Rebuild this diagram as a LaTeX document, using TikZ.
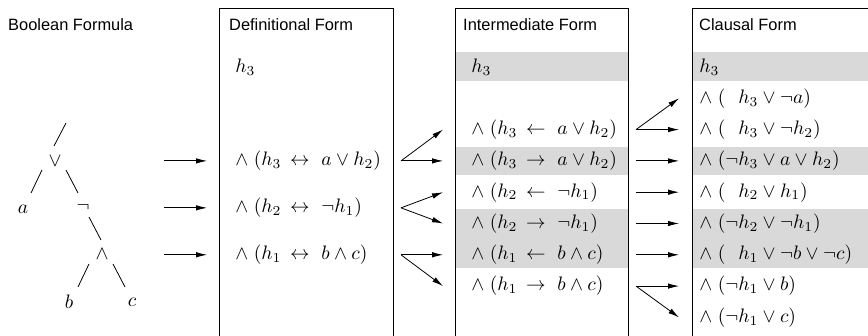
\documentclass[tikz,border=0pt]{standalone}
\usepackage[no-math]{fontspec}
\newfontfamily\lsans{Liberation Sans}
\usetikzlibrary{arrows.meta,calc}
\definecolor{bandgray}{RGB}{217,217,217}
\newcommand{\cw}{\mathord{\wedge}\;\,}
\newcommand{\rl}[1]{\,#1\ }
\begin{document}
\begin{tikzpicture}[x=1pt,y=-1pt,
  title/.style={anchor=west,inner sep=0pt,font=\lsans\fontsize{16.4}{19}\selectfont},
  row/.style={anchor=west,inner sep=0pt,scale=1.95},
  tree/.style={inner sep=0pt,scale=1.95},
  boxline/.style={draw,line width=0.9pt},
  band/.style={fill=bandgray},
  arr/.style={-{Latex[length=11pt,width=5.5pt]},line width=0.8pt},
  tline/.style={line width=0.8pt}]
\useasboundingbox (0,0) rectangle (868,336);
\clip (0,0) rectangle (868,336);
% shaded bands
\fill[band] (455,52.5) rectangle (628,81);
\fill[band] (455,147) rectangle (628,175);
\fill[band] (455,209) rectangle (628,268.5);
\fill[band] (692,52.5) rectangle (880,81);
\fill[band] (692,147) rectangle (880,175);
\fill[band] (692,209) rectangle (880,268.5);
% boxes
\draw[boxline] (219,360) -- (219,8) -- (393,8) -- (393,360);
\draw[boxline] (455,360) -- (455,8) -- (628,8) -- (628,360);
\draw[boxline] (692,360) -- (692,8) -- (880,8);
% titles
\node[title] (tBool) at (8,25) {Boolean Formula};
\node[title] (tDef) at (229,25) {Definitional Form};
\node[title] (tInt) at (463,25) {Intermediate Form};
\node[title] (tCl) at (699,25) {Clausal Form};
% tree
\node[tree] (vee) at (55,161) {$\vee$};
\node[tree] (ta) at (23,209) {$a$};
\node[tree] (tneg) at (83,207) {$\neg$};
\node[tree] (twedge) at (102,254) {$\wedge$};
\node[tree] (tb) at (69,302) {$b$};
\node[tree] (tc) at (132,302) {$c$};
\draw[tline] ($(vee)+(-1,-15)$) -- ($(vee)+(11,-38)$);
\draw[tline] ($(vee)+(-13,9)$) -- ($(ta)+(8,-16)$);
\draw[tline] ($(vee)+(11,9)$) -- ($(tneg)+(-5,-14)$);
\draw[tline] ($(tneg)+(6,10)$) -- ($(twedge)+(-1,-14)$);
\draw[tline] ($(twedge)+(-13,10)$) -- ($(tb)+(9,-15)$);
\draw[tline] ($(twedge)+(11,10)$) -- ($(tc)+(-7,-15)$);
% definitional form
\node[row] (d0) at (235,67) {$h_3$};
\node[row] (d1) at (235,160.9) {$\mathord{\wedge}\;(h_3\rl{\leftrightarrow}a\vee h_2)$};
\node[row] (d2) at (235,207.85) {$\mathord{\wedge}\;(h_2\rl{\leftrightarrow}\neg h_1)$};
\node[row] (d3) at (235,254.8) {$\mathord{\wedge}\;(h_1\rl{\leftrightarrow}b\wedge c)$};
% intermediate form
\node[row] (i0) at (471,67) {$h_3$};
\node[row] (i1) at (471,129.6) {$\mathord{\wedge}\;(h_3\rl{\leftarrow}a\vee h_2)$};
\node[row] (i2) at (471,160.9) {$\mathord{\wedge}\;(h_3\rl{\rightarrow}a\vee h_2)$};
\node[row] (i3) at (471,192.2) {$\mathord{\wedge}\;(h_2\rl{\leftarrow}\neg h_1)$};
\node[row] (i4) at (471,223.5) {$\mathord{\wedge}\;(h_2\rl{\rightarrow}\neg h_1)$};
\node[row] (i5) at (471,254.8) {$\mathord{\wedge}\;(h_1\rl{\leftarrow}b\wedge c)$};
\node[row] (i6) at (471,286.1) {$\mathord{\wedge}\;(h_1\rl{\rightarrow}b\wedge c)$};
% clausal form
\node[row] (c0) at (699,67) {$h_3$};
\node[row] (c1) at (699,98.3) {$\mathord{\wedge}\;(\phantom{\neg}h_3\vee\neg a)$};
\node[row] (c2) at (699,129.6) {$\mathord{\wedge}\;(\phantom{\neg}h_3\vee\neg h_2)$};
\node[row] (c3) at (699,160.9) {$\mathord{\wedge}\;(\neg h_3\vee a\vee h_2)$};
\node[row] (c4) at (699,192.2) {$\mathord{\wedge}\;(\phantom{\neg}h_2\vee h_1)$};
\node[row] (c5) at (699,223.5) {$\mathord{\wedge}\;(\neg h_2\vee\neg h_1)$};
\node[row] (c6) at (699,254.8) {$\mathord{\wedge}\;(\phantom{\neg}h_1\vee\neg b\vee\neg c)$};
\node[row] (c7) at (699,286.1) {$\mathord{\wedge}\;(\neg h_1\vee b)$};
\node[row] (c8) at (699,317.4) {$\mathord{\wedge}\;(\neg h_1\vee c)$};
% arrow columns
\coordinate (lA) at (164,0);
\coordinate (lB) at (207,0);
\coordinate (dA) at (401,0);
\coordinate (dB) at (443,0);
\coordinate (iA) at (636,0);
\coordinate (iB) at (679,0);
% arrows tree -> definitional
\draw[arr] (d1 -| lA) -- (d1 -| lB);
\draw[arr] (d2 -| lA) -- (d2 -| lB);
\draw[arr] (d3 -| lA) -- (d3 -| lB);
% arrows definitional -> intermediate
\draw[arr] (d1 -| dA) -- (i1 -| dB);
\draw[arr] (d1 -| dA) -- (i2 -| dB);
\draw[arr] (d2 -| dA) -- (i3 -| dB);
\draw[arr] (d2 -| dA) -- (i4 -| dB);
\draw[arr] (d3 -| dA) -- (i5 -| dB);
\draw[arr] (d3 -| dA) -- (i6 -| dB);
% arrows intermediate -> clausal
\draw[arr] (i1 -| iA) -- (c1 -| iB);
\draw[arr] (i1 -| iA) -- (c2 -| iB);
\draw[arr] (i2 -| iA) -- (c3 -| iB);
\draw[arr] (i3 -| iA) -- (c4 -| iB);
\draw[arr] (i4 -| iA) -- (c5 -| iB);
\draw[arr] (i5 -| iA) -- (c6 -| iB);
\draw[arr] (i6 -| iA) -- (c7 -| iB);
\draw[arr] (i6 -| iA) -- (c8 -| iB);
\end{tikzpicture}
\end{document}
